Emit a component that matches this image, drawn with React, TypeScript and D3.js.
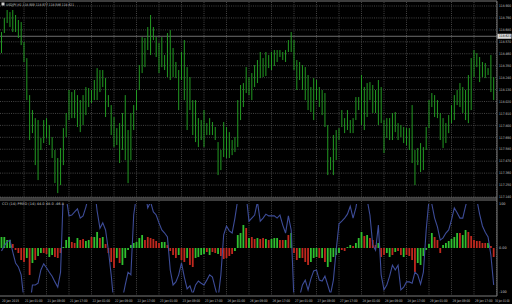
import React from 'react';
import * as d3 from 'd3';

const highs = [
118.660,118.789,118.863,118.844,118.863,118.817,118.771,118.752,118.568,118.420,
118.079,117.941,117.867,117.849,117.683,117.849,117.867,117.803,117.692,117.573,
117.499,117.591,117.775,117.914,118.126,118.107,118.126,118.079,118.033,118.079,
118.153,118.144,118.126,118.218,118.328,118.310,118.310,118.236,118.079,117.987,
117.877,117.775,117.821,117.914,118.079,117.757,117.914,117.987,118.126,118.356,
118.614,118.605,118.706,118.817,118.706,118.614,118.559,118.614,118.448,118.651,
118.678,118.513,118.384,118.310,118.476,118.586,118.337,118.245,118.033,118.033,
117.867,117.849,117.941,117.821,117.867,117.831,117.785,117.646,117.573,117.831,
117.785,117.738,117.665,117.692,118.033,118.172,118.190,118.337,118.245,118.282,
118.356,118.402,118.476,118.420,118.476,118.448,118.476,118.494,118.494,118.494,
118.476,118.494,118.586,118.660,118.586,118.402,118.384,118.356,118.337,118.264,
118.153,118.236,118.218,118.153,118.126,118.098,117.803,117.508,117.711,117.757,
117.775,117.941,117.867,117.941,117.849,117.867,118.061,118.061,118.264,118.153,
118.190,118.199,118.172,118.126,118.218,118.153,117.849,117.867,117.867,117.914,
117.923,117.821,117.803,117.785,117.775,117.775,117.987,117.573,117.591,117.637,
117.600,117.785,118.033,118.098,118.079,118.033,117.914,117.867,117.821,117.895,
117.987,118.079,118.126,118.190,118.153,118.126,118.264,118.420,118.494,118.466,
118.430,118.384,118.374,118.328,118.448,118.245];

const lows = [
118.466,118.651,118.743,118.706,118.660,118.660,118.605,118.540,118.384,118.033,
117.665,117.729,117.434,117.296,117.573,117.637,117.683,117.619,117.499,117.268,
117.176,117.250,117.434,117.692,117.849,117.867,117.867,117.785,117.738,117.803,
117.895,117.969,118.006,118.033,118.033,118.107,118.153,117.877,117.969,117.711,
117.600,117.619,117.453,117.573,117.480,117.268,117.480,117.757,117.941,118.126,
118.282,118.337,118.494,118.448,118.586,118.430,118.282,118.337,118.310,118.245,
118.218,118.245,118.236,117.941,118.218,118.033,117.757,117.941,117.711,117.646,
117.600,117.665,117.600,117.711,117.711,117.711,117.665,117.342,117.388,117.508,
117.499,117.499,117.526,117.554,117.600,117.849,117.969,118.098,118.079,118.033,
118.153,118.190,118.236,118.245,118.255,118.328,118.310,118.347,118.384,118.430,
118.402,118.384,118.476,118.476,118.310,118.126,118.218,118.126,118.033,117.941,
117.923,117.849,118.033,117.969,117.895,117.785,117.342,117.388,117.342,117.480,
117.665,117.785,117.729,117.757,117.729,117.729,117.849,117.941,117.803,117.757,
117.877,118.033,117.914,117.914,117.803,117.821,117.545,117.683,117.665,117.665,
117.738,117.665,117.692,117.637,117.619,117.573,117.453,117.250,117.434,117.370,
117.388,117.573,117.775,117.969,117.877,117.867,117.665,117.591,117.637,117.729,
117.821,117.849,117.987,117.969,117.914,117.849,117.821,117.941,118.245,118.337,
118.199,118.245,118.236,118.264,118.107,118.033];

const cciValues = [
-7,5,14,18,-9,-34,-43,-61,-120,-140,
-135,-84,-84,-80,-50,-36,-45,-55,-64,-77,
-89,-55,130,115,73,75,82,89,68,73,
93,120,150,140,84,45,57,41,-5,-61,
-130,-150,-140,-115,-84,-55,-61,75,120,140,
150,130,91,105,82,75,57,41,34,25,
-50,-84,-77,-61,-34,-66,-93,-86,-105,-84,
-75,-80,-84,-73,-61,-66,-91,-115,-61,30,
50,39,34,68,110,140,150,120,61,68,
75,105,61,68,77,73,73,73,68,75,
52,34,73,41,-120,-140,-110,-84,-73,-95,
-70,-52,-50,-73,-75,-64,-84,-105,-73,-5,
55,61,68,77,95,68,91,130,150,140,
110,75,7,-5,52,-61,-95,-84,-64,-39,
-50,-39,-95,-89,-77,-77,-80,-55,-61,-82,
-55,41,110,100,68,48,18,23,34,41,
64,91,80,68,68,95,120,140,130,110,
77,50,36,25,-16,-84];

const histValues = [
25.0,25.0,18.2,18.2,9.1,-4.5,-11.4,-27.3,-31.8,-22.7,
-61.4,-34.1,-27.3,-18.2,-11.4,-11.4,-13.6,-20.5,-15.9,-20.5,
-22.7,-11.4,2.3,18.2,25.0,13.6,11.4,22.7,18.2,20.5,
15.9,18.2,25.0,25.0,36.4,22.7,25.0,9.1,-11.4,-31.8,
-45.5,-22.7,-34.1,-38.6,-22.7,-4.5,6.8,11.4,13.6,22.7,
29.5,18.2,25.0,22.7,20.5,15.9,11.4,13.6,13.6,6.8,
-6.8,-15.9,-22.7,-15.9,-27.3,-31.8,-22.7,-38.6,-43.2,-22.7,
-20.5,-15.9,-13.6,-9.1,-15.9,-9.1,-11.4,-13.6,-18.2,-25.0,
-22.7,-18.2,-13.6,-6.8,29.5,34.1,52.3,45.5,22.7,25.0,
20.5,22.7,20.5,22.7,20.5,18.2,20.5,22.7,22.7,18.2,
18.2,18.2,29.5,34.1,-11.4,-27.3,-22.7,-22.7,-31.8,-38.6,
-31.8,-22.7,-20.5,-22.7,-22.7,-31.8,-43.2,-31.8,-20.5,-15.9,
-11.4,-4.5,-6.8,2.3,6.8,4.5,11.4,22.7,36.4,27.3,
29.5,22.7,18.2,6.8,11.4,-20.5,-15.9,-11.4,-20.5,-15.9,
-9.1,-6.8,-15.9,-20.5,-15.9,-18.2,-27.3,-54.5,-34.1,-38.6,
-18.2,-4.5,9.1,34.1,25.0,18.2,-11.4,6.8,11.4,15.9,
20.5,25.0,34.1,34.1,29.5,40.9,36.4,27.3,18.2,15.9,
15.9,11.4,11.4,11.4,4.5,-20.5];

// g = green (up) bar, r = red (down) bar
const histColorFlags =
  "ggggrrrrrg" + "rgrggrrggr" + "rrgggrrgrr" + "ggrggrgrrr" + "rgrggggggg" +
  "grrrrrrggr" + "rrrgrrgrrg" + "gggrgrrgrr" + "rrrggggrgr" + "rgrrgrgggr" +
  "rgrgrrgrrr" + "gggrgrgggg" + "grrggrgggr" + "grrrgrrggr" + "grrgrrrrgg" +
  "ggggrrrggg" + "gggrggrrrr" + "rrrgrr";

const priceTicks = [118.900,118.790,118.680,118.570,118.460,118.350,118.240,118.130,118.020,
  117.910,117.800,117.690,117.580,117.470,117.360,117.250,117.140];

const timeLabels = ["20 Jan 2015","21 Jan 01:00","21 Jan 09:00","21 Jan 17:00","22 Jan 01:00",
  "22 Jan 09:00","22 Jan 17:00","23 Jan 01:00","23 Jan 09:00","23 Jan 17:00","26 Jan 01:00",
  "26 Jan 09:00","26 Jan 17:00","27 Jan 01:00","27 Jan 09:00","27 Jan 17:00","28 Jan 01:00",
  "28 Jan 09:00","28 Jan 17:00","29 Jan 01:00","29 Jan 09:00","29 Jan 17:00","30 Jan 01:00"];

const cciTicks = [100, 0, -100];
const cciTickLabels = ["100", "0.00", "-100"];

const bidPrice = 118.621;
const headerText = "USDJPY,H1  118.909 118.977 118.586 118.621";
const cciText = "CCI (14) PRED (14) 44.0 48.0 -46.8";

export default function App() {
  const plotRight = 497;
  const step = 2.8125;
  const x0 = 1.5;
  const x = d3.scaleLinear().domain([0, 1]).range([x0, x0 + step]);
  const yP = d3.scaleLinear().domain([117.14, 118.9]).range([197, 6]);
  const yC = d3.scaleLinear().domain([-100, 100]).range([292, 204]);
  const line = d3.line<number>().x((_, i) => x(i)).y((d) => yC(d));
  const font = "'DejaVu Sans', sans-serif";
  const fs = 3.4;
  const gridColor = "#555555";
  const textColor = "#c8c8c8";
  const lastK = timeLabels.length - 1;

  return (
    <svg width={512} height={304} style={{ position: 'fixed', left: 0, top: 0, background: '#000' }}
      fontFamily={font}>
      <defs>
        <clipPath id="mainClip"><rect x={0} y={1} width={plotRight} height={196} /></clipPath>
        <clipPath id="subClip"><rect x={0} y={204} width={plotRight} height={88.5} /></clipPath>
      </defs>
      <rect x={0} y={0} width={512} height={304} fill="#000" />
      {/* vertical grid */}
      {timeLabels.map((t, k) => k === 0 ? null : (
        <g key={'vg' + k}>
          <line x1={x(k * 8)} x2={x(k * 8)} y1={2} y2={197} stroke={gridColor} strokeWidth={0.8} strokeDasharray="1,1.2" />
          <line x1={x(k * 8)} x2={x(k * 8)} y1={201} y2={295} stroke={gridColor} strokeWidth={0.8} strokeDasharray="1,1.2" />
        </g>
      ))}
      {/* horizontal grid */}
      {priceTicks.map((p, k) => (
        <line key={'hg' + k} x1={0} x2={plotRight} y1={yP(p)} y2={yP(p)} stroke={gridColor} strokeWidth={0.8} strokeDasharray="1,1.2" />
      ))}
      {/* bid line */}
      <line x1={0} x2={plotRight} y1={yP(bidPrice)} y2={yP(bidPrice)} stroke="#8a8a8a" strokeWidth={0.8} />
      {/* price bars */}
      <g clipPath="url(#mainClip)">
        {highs.map((h, i) => (
          <line key={'b' + i} x1={x(i)} x2={x(i)} y1={yP(h)} y2={yP(lows[i])} stroke="#229a22" strokeWidth={1} />
        ))}
      </g>
      {/* indicator histogram */}
      <g clipPath="url(#subClip)">
        {histValues.map((v, i) => (
          <rect key={'h' + i} x={x(i) - 0.9} width={1.8}
            y={Math.min(yC(v), yC(0))} height={Math.abs(yC(v) - yC(0))}
            fill={histColorFlags[i] === 'g' ? '#2fc02f' : '#c0281e'} />
        ))}
        <path d={line(cciValues) || ''} fill="none" stroke="#3d4c98" strokeWidth={1.1} />
      </g>
      {/* frames */}
      <line x1={0} x2={plotRight} y1={1} y2={1} stroke="#9a9a9a" strokeWidth={0.8} />
      <line x1={0} x2={plotRight} y1={198} y2={198} stroke="#9a9a9a" strokeWidth={0.8} />
      <line x1={0} x2={plotRight} y1={200} y2={200} stroke="#9a9a9a" strokeWidth={0.8} />
      <line x1={0} x2={plotRight} y1={296} y2={296} stroke="#9a9a9a" strokeWidth={0.8} />
      <line x1={plotRight} x2={plotRight} y1={1} y2={296} stroke="#9a9a9a" strokeWidth={0.8} />
      {/* price axis labels */}
      {priceTicks.map((p, k) => (
        <text key={'pl' + k} x={plotRight + 2} y={yP(p) + 1.2} fontSize={fs} fill={textColor}
          textLength={12} lengthAdjust="spacingAndGlyphs">{p.toFixed(3)}</text>
      ))}
      <rect x={plotRight + 0.5} y={yP(bidPrice) - 2.5} width={14} height={5} fill="#d8d8d8" />
      <text x={plotRight + 2} y={yP(bidPrice) + 1.2} fontSize={fs} fill="#000"
        textLength={12} lengthAdjust="spacingAndGlyphs">{bidPrice.toFixed(3)}</text>
      {/* cci axis labels */}
      {cciTicks.map((v, k) => (
        <text key={'cl' + k} x={plotRight + 2} y={yC(v) + 1.2} fontSize={fs} fill={textColor}>{cciTickLabels[k]}</text>
      ))}
      {/* time labels */}
      {timeLabels.map((t, k) => k === lastK ? (
        <text key={'tl' + k} transform="translate(495,301.5) scale(0.68,1)" fontSize={fs} fill={textColor}>{t}</text>
      ) : (
        <text key={'tl' + k} x={k === 0 ? 2 : x(k * 8) + 1} y={301.5} fontSize={fs} fill={textColor}
          textLength={k === 0 ? 17 : 17.5} lengthAdjust="spacingAndGlyphs">{t}</text>
      ))}
      {/* header */}
      <rect x={1.5} y={2.5} width={3} height={3} fill="#cfcfcf" />
      <text x={6} y={5.6} fontSize={fs} fill={textColor} textLength={68} lengthAdjust="spacingAndGlyphs">{headerText}</text>
      <text x={2} y={205} fontSize={fs} fill={textColor} textLength={62} lengthAdjust="spacingAndGlyphs">{cciText}</text>
    </svg>
  );
}
